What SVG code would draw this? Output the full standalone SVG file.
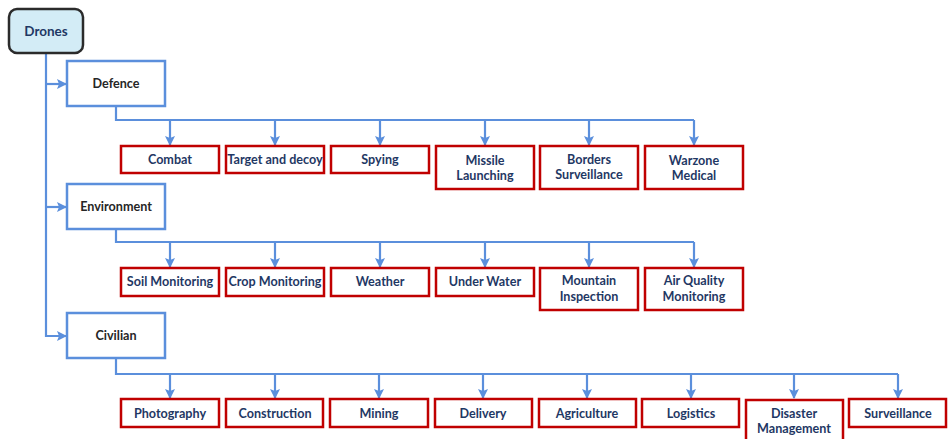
<svg xmlns="http://www.w3.org/2000/svg" width="950" height="439" viewBox="0 0 950 439">
<style>
.bg{fill:#ffffff}
.root rect{fill:#d3ecf6;stroke:#2b2b2b;stroke-width:2.5}
.cat rect{fill:#ffffff;stroke:#5b8fdc;stroke-width:2.5}
.leaf rect{fill:#ffffff;stroke:#c00000;stroke-width:2.5}
text{font-family:Lato,"Liberation Sans",sans-serif;font-weight:bold;font-size:12.6px;text-anchor:middle}
.root text{fill:#1f3864;font-size:13.5px}
.cat text{fill:#262626}
.leaf text{fill:#1f3864}
.conn path{fill:none;stroke:#5b8fdc;stroke-width:2.2}
</style>
<defs>
<marker id="ah" markerUnits="userSpaceOnUse" markerWidth="10" markerHeight="10" viewBox="0 0 10 10" refX="9" refY="5" orient="auto">
<path d="M0,0 L10,5 L0,10 L2,5 z" fill="#5b8fdc"/>
</marker>
</defs>
<rect class="bg" x="0" y="0" width="950" height="439"/>
<g class="conn">
<path d="M46,53 V336 H66" marker-end="url(#ah)"/>
<path d="M46,84 H66" marker-end="url(#ah)"/>
<path d="M46,207 H66" marker-end="url(#ah)"/>
<path d="M116,106 V120 H694"/>
<path d="M170,120 V145" marker-end="url(#ah)"/>
<path d="M275,120 V145" marker-end="url(#ah)"/>
<path d="M380,120 V145" marker-end="url(#ah)"/>
<path d="M485,120 V145" marker-end="url(#ah)"/>
<path d="M589,120 V145" marker-end="url(#ah)"/>
<path d="M694,120 V145" marker-end="url(#ah)"/>
<path d="M116,229 V242 H694"/>
<path d="M170,242 V267" marker-end="url(#ah)"/>
<path d="M275,242 V267" marker-end="url(#ah)"/>
<path d="M380,242 V267" marker-end="url(#ah)"/>
<path d="M485,242 V267" marker-end="url(#ah)"/>
<path d="M589,242 V267" marker-end="url(#ah)"/>
<path d="M694,242 V267" marker-end="url(#ah)"/>
<path d="M116,358 V374 H898"/>
<path d="M170,374 V398" marker-end="url(#ah)"/>
<path d="M275,374 V398" marker-end="url(#ah)"/>
<path d="M379,374 V398" marker-end="url(#ah)"/>
<path d="M483,374 V398" marker-end="url(#ah)"/>
<path d="M587,374 V398" marker-end="url(#ah)"/>
<path d="M691,374 V398" marker-end="url(#ah)"/>
<path d="M794,374 V398" marker-end="url(#ah)"/>
<path d="M898,374 V398" marker-end="url(#ah)"/>
</g>
<g id="drones" class="root"><rect x="9" y="9" width="74" height="44" rx="8"/><text x="46" y="36">Drones</text></g>
<g id="defence" class="cat"><rect x="67" y="61" width="98" height="45"/><text x="116" y="88">Defence</text></g>
<g id="environment" class="cat"><rect x="67" y="184" width="98" height="45"/><text x="116" y="211">Environment</text></g>
<g id="civilian" class="cat"><rect x="67" y="313" width="98" height="45"/><text x="116" y="340">Civilian</text></g>

<g id="combat" class="leaf"><rect x="121" y="146" width="98" height="27"/><text x="170" y="164">Combat</text></g>
<g id="target" class="leaf"><rect x="226" y="146" width="98" height="27"/><text x="275" y="164">Target and decoy</text></g>
<g id="spying" class="leaf"><rect x="331" y="146" width="98" height="27"/><text x="380" y="164">Spying</text></g>
<g id="missile" class="leaf"><rect x="436" y="146" width="98" height="43"/><text x="485" y="165">Missile</text><text x="485" y="180">Launching</text></g>
<g id="borders" class="leaf"><rect x="540" y="146" width="98" height="43"/><text x="589" y="164">Borders</text><text x="589" y="179">Surveillance</text></g>
<g id="warzone" class="leaf"><rect x="645" y="146" width="98" height="43"/><text x="694" y="165">Warzone</text><text x="694" y="180">Medical</text></g>

<g id="soil" class="leaf"><rect x="121" y="268" width="98" height="28"/><text x="170" y="286">Soil Monitoring</text></g>
<g id="crop" class="leaf"><rect x="226" y="268" width="98" height="28"/><text x="275" y="286">Crop Monitoring</text></g>
<g id="weather" class="leaf"><rect x="331" y="268" width="98" height="28"/><text x="380" y="286">Weather</text></g>
<g id="underwater" class="leaf"><rect x="436" y="268" width="98" height="28"/><text x="485" y="286">Under Water</text></g>
<g id="mountain" class="leaf"><rect x="540" y="268" width="98" height="42"/><text x="589" y="285">Mountain</text><text x="589" y="301">Inspection</text></g>
<g id="airquality" class="leaf"><rect x="645" y="268" width="98" height="42"/><text x="694" y="285">Air Quality</text><text x="694" y="301">Monitoring</text></g>

<g id="photography" class="leaf"><rect x="121" y="399" width="98" height="28"/><text x="170" y="418">Photography</text></g>
<g id="construction" class="leaf"><rect x="226" y="399" width="97" height="28"/><text x="275" y="418">Construction</text></g>
<g id="mining" class="leaf"><rect x="330" y="399" width="98" height="28"/><text x="379" y="418">Mining</text></g>
<g id="delivery" class="leaf"><rect x="435" y="399" width="97" height="28"/><text x="483" y="418">Delivery</text></g>
<g id="agriculture" class="leaf"><rect x="539" y="399" width="97" height="28"/><text x="587" y="418">Agriculture</text></g>
<g id="logistics" class="leaf"><rect x="642" y="399" width="97" height="28"/><text x="691" y="418">Logistics</text></g>
<g id="disaster" class="leaf"><rect x="746" y="400" width="97" height="44"/><text x="794" y="418">Disaster</text><text x="794" y="433">Management</text></g>
<g id="surveillance" class="leaf"><rect x="849" y="399" width="97" height="28"/><text x="898" y="418">Surveillance</text></g>
</svg>
